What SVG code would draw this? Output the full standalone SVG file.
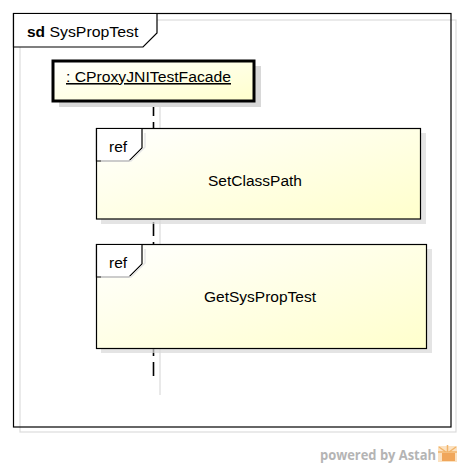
<svg xmlns="http://www.w3.org/2000/svg" width="464" height="466" viewBox="0 0 464 466">
<defs>
<linearGradient id="yel" x1="0" y1="0" x2="1" y2="1">
<stop offset="0" stop-color="#ffffff"/>
<stop offset="1" stop-color="#ffffcc"/>
</linearGradient>
<style>
.t{font-family:"Liberation Sans",Arial,sans-serif;fill:#000}
.shadow{fill:#d8d8d8;stroke:none}
.box{fill:url(#yel);stroke:#000;stroke-width:1.2}
.tab{fill:#fff;stroke:#000;stroke-width:1.2}
.faint{fill:none;stroke:#dcdcdc;stroke-width:1.2}
</style>
</defs>
<rect width="464" height="466" fill="#fff"/>
<g id="frame">
<rect x="20" y="20" width="436" height="412" class="faint"/>
<rect x="13.5" y="13.5" width="437.5" height="413.5" fill="none" stroke="#000" stroke-width="1.2"/>
<path d="M13.5 13.5 H157 V33 L143 47 H13.5 Z" class="tab"/>
<text x="27" y="36.5" class="t" font-size="15.5"><tspan font-weight="bold">sd</tspan> <tspan textLength="89" lengthAdjust="spacingAndGlyphs">SysPropTest</tspan></text>
</g>
<g id="connectors">
<line x1="160" y1="106" x2="160" y2="395" stroke="#e2e2e2" stroke-width="1.5"/>
<line x1="153.5" y1="102" x2="153.5" y2="380" stroke="#000" stroke-width="1.6" stroke-dasharray="14,6"/>
</g>
<g id="lifeline">
<rect x="59" y="66" width="202" height="41" class="shadow"/>
<rect x="53" y="61" width="201" height="40" fill="url(#yel)" stroke="#000" stroke-width="3"/>
<text x="66" y="82" class="t" font-size="15.5" text-decoration="underline" textLength="165" lengthAdjust="spacingAndGlyphs">: CProxyJNITestFacade</text>
</g>
<g id="ref1">
<rect x="101" y="133" width="325" height="91" class="shadow" fill-opacity="0.7"/>
<rect x="96.5" y="128.5" width="324" height="90.5" class="box"/>
<path d="M96.5 128.5 H142 V148 L129 161 H96.5 Z" class="tab"/>
<path d="M101 161 H131 L145 147 V133" fill="none" stroke="#e6e6e6" stroke-width="1.5"/>
<text x="109" y="151.5" class="t" font-size="15.5">ref</text>
<text x="255" y="186" class="t" font-size="15.5" text-anchor="middle">SetClassPath</text>
</g>
<g id="ref2">
<rect x="101" y="249" width="331" height="104" class="shadow" fill-opacity="0.7"/>
<rect x="96.5" y="244.5" width="330" height="104" class="box"/>
<path d="M96.5 244.5 H142 V264 L129 277 H96.5 Z" class="tab"/>
<path d="M101 277 H131 L145 263 V249" fill="none" stroke="#e6e6e6" stroke-width="1.5"/>
<text x="109" y="267.5" class="t" font-size="15.5">ref</text>
<text x="260" y="302" class="t" font-size="15.5" text-anchor="middle">GetSysPropTest</text>
</g>
<g id="watermark">
<text x="320" y="460" font-family="'Open Sans','DejaVu Sans',sans-serif" font-weight="bold" font-size="14" fill="#b4b4b4" textLength="116" lengthAdjust="spacingAndGlyphs">powered by Astah</text>
<rect x="438" y="446" width="19" height="16" fill="#fbe2c2"/>
<path d="M447.5 445 V452 M439 447 L446 452 M456 447 L449 452 M438 452 H457" stroke="#f2b46a" stroke-width="1.5"/>
<rect x="442" y="453" width="13" height="8" fill="#f0a65a"/>
</g>
</svg>
